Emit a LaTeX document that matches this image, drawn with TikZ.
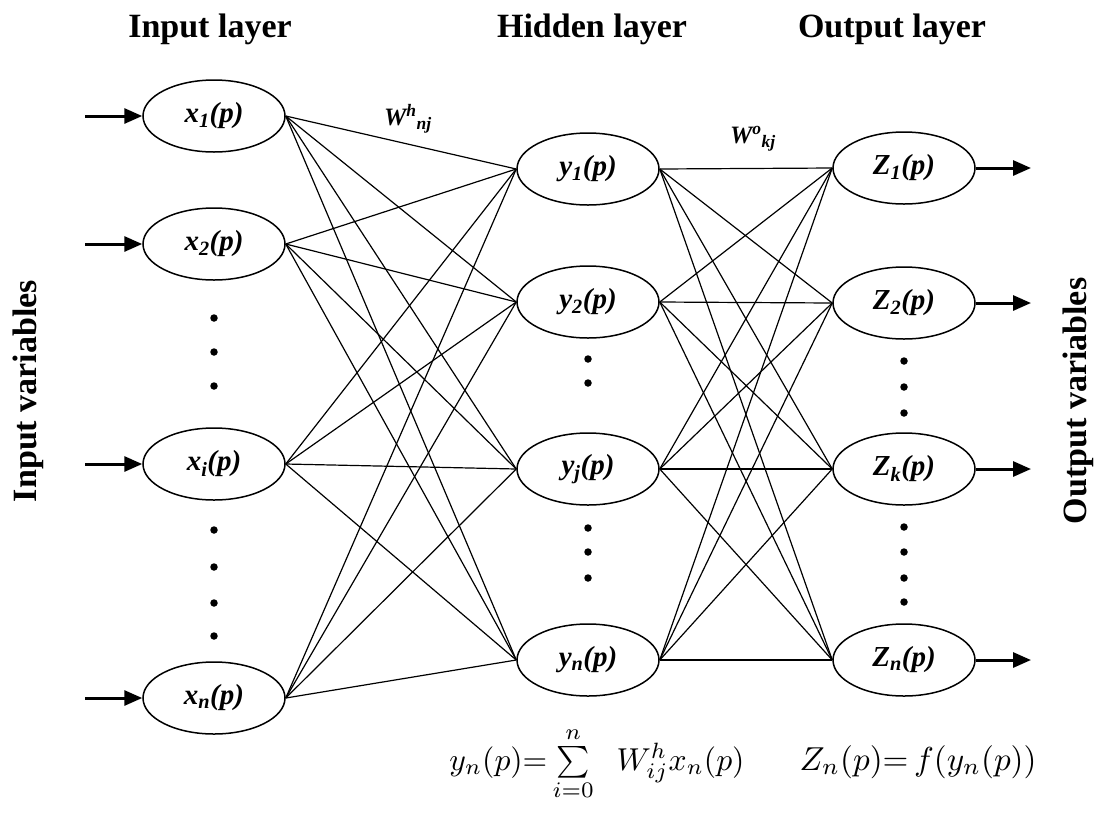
\documentclass[tikz,border=0pt]{standalone}
\usepackage{fontspec}
\setmainfont{Liberation Serif}
\usetikzlibrary{shapes.geometric,arrows.meta}
\begin{document}
\begin{tikzpicture}[x=1pt,y=-1pt,
  neuron/.style={draw,ellipse,line width=1.5pt,minimum width=142pt,minimum height=72pt,inner sep=0pt,
    font=\fontsize{29}{29}\selectfont\bfseries\itshape},
  conn/.style={line width=1.2pt},
  ioarrow/.style={line width=3pt,-{Triangle[length=18pt,width=15pt]}},
  dotmark/.style={circle,fill,inner sep=0pt,minimum size=7.5pt},
  heading/.style={font=\fontsize{34}{34}\selectfont\bfseries,anchor=base,inner sep=0pt},
  sidelabel/.style={font=\fontsize{34}{34}\selectfont\bfseries,rotate=90,inner sep=0pt},
  weight/.style={font=\fontsize{25}{25}\selectfont\bfseries\itshape,inner sep=0pt},
  equation/.style={anchor=base,inner sep=0pt}]
\useasboundingbox (0,0) rectangle (1113,812);

% headings
\node[heading] (hin) at (210,37) {Input layer};
\node[heading] (hhid) at (592,37) {Hidden layer};
\node[heading] (hout) at (892,37) {Output layer};

% side labels
\node[sidelabel] (lin) at (28,391) {Input variables};
\node[sidelabel] (lout) at (1078,401) {Output variables};

% input layer
\node[neuron] (x1) at (214,116) {x\textsubscript{1}(p)};
\node[neuron] (x2) at (214,244) {x\textsubscript{2}(p)};
\node[neuron] (xi) at (214,464) {x\textsubscript{i}(p)};
\node[neuron] (xn) at (214,698) {x\textsubscript{n}(p)};

% hidden layer
\node[neuron] (y1) at (588,169) {y\textsubscript{1}(p)};
\node[neuron] (y2) at (588,302) {y\textsubscript{2}(p)};
\node[neuron] (yj) at (588,469) {y\textsubscript{j}(p)};
\node[neuron] (yn) at (588,660) {y\textsubscript{n}(p)};

% output layer
\node[neuron] (z1) at (904,168) {Z\textsubscript{1}(p)};
\node[neuron] (z2) at (904,303) {Z\textsubscript{2}(p)};
\node[neuron] (zk) at (904,469) {Z\textsubscript{k}(p)};
\node[neuron] (zn) at (904,660) {Z\textsubscript{n}(p)};

% dots
\foreach \yy [count=\k] in {318,352,386,530,567,603,636}
  \node[dotmark] (din\k) at (214,\yy) {};
\foreach \yy [count=\k] in {359,383,528,552,578}
  \node[dotmark] (dhid\k) at (588,\yy) {};
\foreach \yy [count=\k] in {361,387,413,527,552,578,602}
  \node[dotmark] (dout\k) at (904,\yy) {};

% connections
\foreach \a in {x1,x2,xi,xn}
  \foreach \b in {y1,y2,yj,yn}
    \draw[conn] (\a.east) -- (\b.west);
\foreach \a in {y1,y2,yj,yn}
  \foreach \b in {z1,z2,zk,zn}
    \draw[conn] (\a.east) -- (\b.west);

% input arrows
\coordinate (ain1) at (85,116);
\coordinate (ain2) at (85,244);
\coordinate (ain3) at (85,464);
\coordinate (ain4) at (85,698);
\draw[ioarrow] (ain1) -- (x1.west);
\draw[ioarrow] (ain2) -- (x2.west);
\draw[ioarrow] (ain3) -- (xi.west);
\draw[ioarrow] (ain4) -- (xn.west);

% output arrows
\coordinate (aout1) at (1031,168);
\coordinate (aout2) at (1031,303);
\coordinate (aout3) at (1031,469);
\coordinate (aout4) at (1031,660);
\draw[ioarrow] (z1.east) -- (aout1);
\draw[ioarrow] (z2.east) -- (aout2);
\draw[ioarrow] (zk.east) -- (aout3);
\draw[ioarrow] (zn.east) -- (aout4);

% weight labels
\node[weight] (wh) at (408,119) {W\textsuperscript{h}\textsubscript{nj}};
\node[weight] (wo) at (753,139) {W\textsuperscript{o}\textsubscript{kj}};

% equations
\node[equation] (eq1) at (597,770) {\resizebox{295pt}{!}{$y_n(p){=}\sum\limits_{i=0}^{n}\;\;W_{ij}^{h}x_n(p)$}};
\node[equation] (eq2) at (918,770) {\resizebox{237pt}{!}{$Z_n(p){=}\,f(y_n(p))$}};
\end{tikzpicture}
\end{document}
